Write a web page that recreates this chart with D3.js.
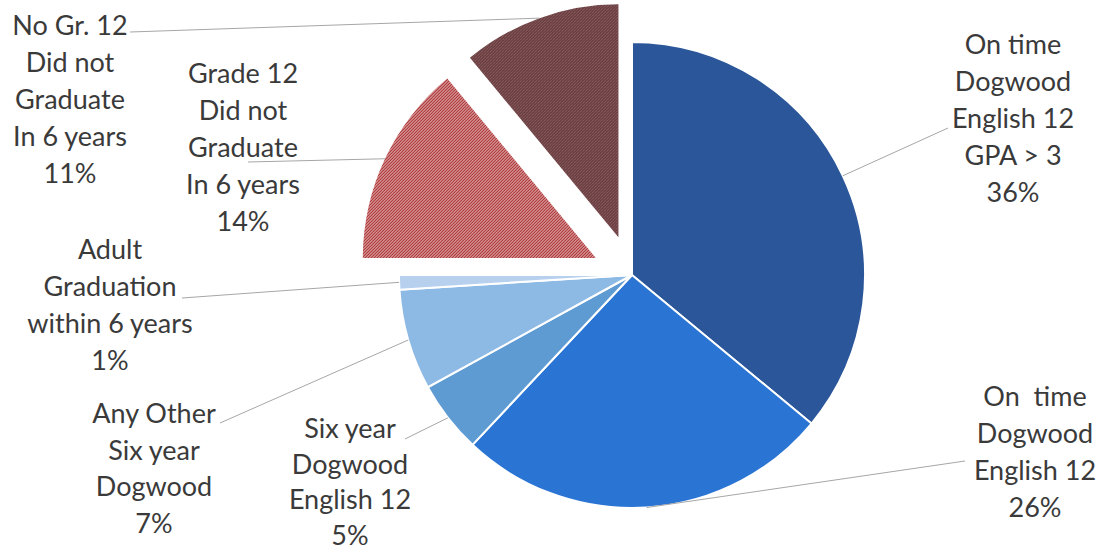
<!DOCTYPE html>
<html>
<head>
<meta charset="utf-8">
<script src="https://cdn.jsdelivr.net/npm/d3@7"></script>
<style>
  body { margin: 0; background: #fff; }
  svg { display: block; }
</style>
</head>
<body>
<script>
// slice labels, values (percent) and fills, clockwise from 12 o'clock
var categories = [
	"On time\nDogwood\nEnglish 12\nGPA > 3",
	"On  time\nDogwood\nEnglish 12",
	"Six year\nDogwood\nEnglish 12",
	"Any Other\nSix year\nDogwood",
	"Adult\nGraduation\nwithin 6 years",
	"Grade 12\nDid not\nGraduate\nIn 6 years",
	"No Gr. 12\nDid not\nGraduate\nIn 6 years"
];
var values = [36, 26, 5, 7, 1, 14, 11];
var exploded = [false, false, false, false, false, true, true];

var w = 1100;
var h = 552;
var cx = 632, cy = 275, r = 233;
var explodeBy = 40;

var fills = ["#2b579a", "#2a74d4", "#5f9bd3", "#8db9e5", "#b6d0ee", "url(#hatchRed)", "url(#hatchBrown)"];

// where each label block sits (centre x, first baseline, line step) and where its leader line starts
var labelPos = [
	{ x: 1013, y: 54,  step: 37,   lx: 948, ly: 128 },
	{ x: 1035, y: 406, step: 37,   lx: 965, ly: 461 },
	{ x: 350,  y: 438, step: 35.5, lx: 405, ly: 439 },
	{ x: 154,  y: 423, step: 36.7, lx: 220, ly: 423 },
	{ x: 110,  y: 259, step: 37,   lx: 182, ly: 298 },
	{ x: 243,  y: 83,  step: 37,   lx: 248, ly: 162 },
	{ x: 70,   y: 35,  step: 37,   lx: 130, ly: 32 }
];

var svg = d3.select("body").append("svg")
	.attr("width", w)
	.attr("height", h);

var defs = svg.append("defs");
function hatch(id, color, sw) {
	var p = defs.append("pattern")
		.attr("id", id)
		.attr("patternUnits", "userSpaceOnUse")
		.attr("width", 3)
		.attr("height", 3);
	p.append("rect").attr("width", 3).attr("height", 3).attr("fill", "#fff");
	p.append("path")
		.attr("d", "M-1,1 L1,-1 M0,3 L3,0 M2,4 L4,2")
		.attr("stroke", color)
		.attr("stroke-width", sw);
}
hatch("hatchRed", "#a82628", 1.5);
hatch("hatchBrown", "#50191c", 1.6);

var pie = d3.pie().sort(null).value(function(d) { return d; });
var arcs = pie(values);

var arc = d3.arc().innerRadius(0).outerRadius(r);
var edge = d3.arc().innerRadius(r).outerRadius(r);

function offset(d, i) {
	if (!exploded[i]) return [0, 0];
	var mid = (d.startAngle + d.endAngle) / 2;
	return [Math.sin(mid) * explodeBy, -Math.cos(mid) * explodeBy];
}

var g = svg.append("g").attr("transform", "translate(" + cx + "," + cy + ")");

g.selectAll("path.slice")
	.data(arcs)
	.enter()
	.append("path")
	.attr("class", "slice")
	.attr("d", arc)
	.attr("transform", function(d, i) {
		var o = offset(d, i);
		return "translate(" + o[0] + "," + o[1] + ")";
	})
	.attr("fill", function(d, i) { return fills[i]; })
	.attr("stroke", "#fff")
	.attr("stroke-width", function(d, i) { return exploded[i] ? 0 : 2; });

// leader lines
svg.selectAll("line.leader")
	.data(arcs)
	.enter()
	.append("line")
	.attr("class", "leader")
	.attr("x1", function(d, i) { return labelPos[i].lx; })
	.attr("y1", function(d, i) { return labelPos[i].ly; })
	.attr("x2", function(d, i) { return cx + edge.centroid(d)[0] + offset(d, i)[0]; })
	.attr("y2", function(d, i) { return cy + edge.centroid(d)[1] + offset(d, i)[1]; })
	.attr("stroke", "#a6a6a6")
	.attr("stroke-width", 1);

// labels
var labels = svg.selectAll("text.label")
	.data(arcs)
	.enter()
	.append("text")
	.attr("class", "label")
	.attr("x", function(d, i) { return labelPos[i].x; })
	.attr("y", function(d, i) { return labelPos[i].y; })
	.attr("text-anchor", "middle")
	.attr("font-family", "Lato, 'Open Sans', sans-serif")
	.attr("font-size", "27px")
	.attr("fill", "#3a3a3a");

labels.each(function(d, i) {
	var lines = categories[i].split("\n").concat([d.data + "%"]);
	var t = d3.select(this);
	lines.forEach(function(s, k) {
		t.append("tspan")
			.attr("x", labelPos[i].x)
			.attr("dy", k === 0 ? 0 : labelPos[i].step)
			.style("white-space", "pre")
			.text(s);
	});
});
</script>
</body>
</html>
